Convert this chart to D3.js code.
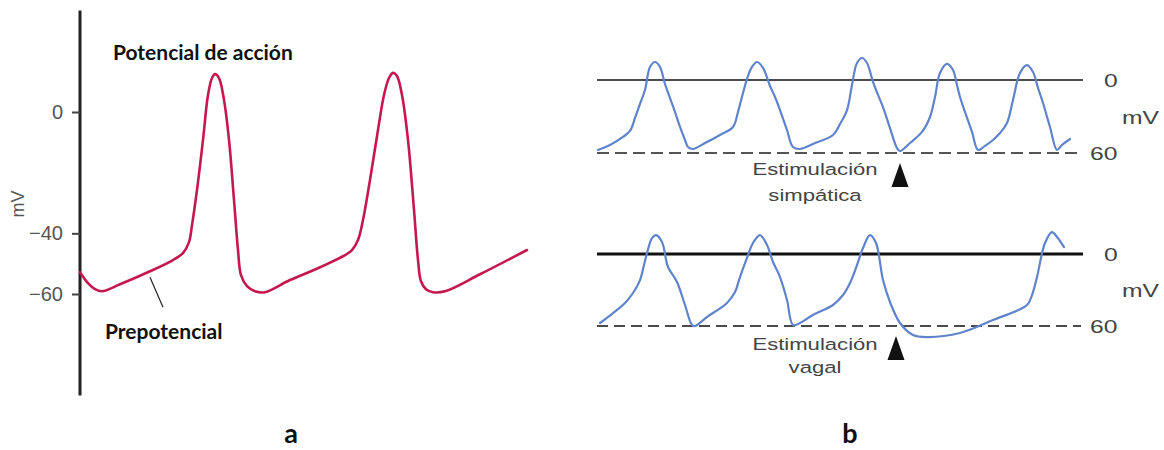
<!DOCTYPE html>
<html>
<head>
<meta charset="utf-8">
<script src="https://cdn.jsdelivr.net/npm/d3@7"></script>
<style>
  html, body { margin: 0; padding: 0; background: #fff; }
  svg { display: block; }
</style>
</head>
<body>
<svg id="chart" width="1164" height="450"></svg>
<script>
// ---------- Panel a: pacemaker action potential ----------
const aTime = [0, 8, 15, 22, 40, 70, 93, 103, 109, 112, 117, 123, 128, 132, 135, 139, 144, 149, 154, 158, 161, 167, 175, 185, 210, 240, 265, 272, 278, 283, 290, 298, 304, 309, 313, 317, 322, 328, 334, 338, 341, 346, 353, 365, 400, 447];
const aVoltage = [-52.8, -56.4, -58.4, -59.1, -56.8, -52.5, -48.8, -46.5, -42.9, -37.3, -25.7, -9.2, 5.6, 11.2, 12.5, 11.2, 4.0, -9.2, -29.0, -45.5, -53.8, -57.4, -59.1, -59.4, -55.4, -51.2, -47.2, -45.5, -42.2, -35.6, -22.4, -5.9, 5.6, 11.2, 12.9, 11.9, 5.6, -9.2, -32.3, -48.8, -55.8, -58.4, -59.4, -59.1, -53.5, -45.5];
const aTicks = [0, -40, -60];

// ---------- Panel b: sympathetic stimulation ----------
const sympTime = [1, 13, 26, 33, 38, 43, 48, 53, 58, 63, 68, 73, 78, 83, 88, 91, 96, 108, 123, 136, 141, 146, 151, 155, 160, 166, 173, 178, 183, 190, 196, 203, 218, 236, 243, 250, 255, 260, 265, 270, 276, 281, 286, 293, 300, 303, 313, 325, 333, 338, 343, 350, 356, 360, 363, 368, 375, 381, 388, 396, 403, 410, 416, 423, 430, 436, 441, 446, 453, 460, 465, 473];
const sympVoltage = [-57.5, -53.4, -46.8, -41.9, -31.2, -19.7, -8.2, 10.7, 14.8, 10.7, -3.3, -14.8, -26.3, -38.6, -49.3, -55.1, -56.7, -51.8, -45.2, -38.6, -26.3, -10.7, 3.3, 10.7, 14.8, 9.9, -4.9, -14.0, -24.7, -41.1, -55.1, -56.7, -51.8, -45.2, -36.2, -24.7, -4.1, 14.0, 18.1, 14.0, -1.6, -12.3, -22.2, -39.5, -55.9, -58.4, -51.8, -42.7, -30.4, -14.0, 5.8, 13.2, 8.2, -4.1, -14.0, -26.3, -42.7, -57.5, -54.2, -49.3, -43.6, -35.3, -16.4, 5.8, 12.3, 6.6, -6.6, -18.9, -38.6, -57.5, -53.4, -48.5];
const sympStimulus = 303;

// ---------- Panel b: vagal stimulation ----------
const vagalTime = [3, 16, 28, 36, 43, 47, 50, 55, 59, 65, 71, 80, 88, 95, 98, 110, 130, 138, 143, 150, 156, 163, 170, 176, 183, 190, 196, 203, 216, 236, 246, 253, 260, 266, 273, 279, 286, 293, 303, 316, 330, 363, 396, 430, 435, 440, 448, 455, 460, 467];
const vagalVoltage = [-57.5, -49.2, -40.8, -32.5, -21.7, -9.2, 0.8, 13.3, 15.8, 10.0, -10.8, -23.3, -42.5, -59.2, -60.0, -52.5, -40.8, -31.7, -19.2, -3.3, 9.2, 15.8, 7.5, -6.7, -19.2, -38.3, -59.2, -57.5, -50.8, -42.5, -34.2, -24.2, -9.2, 5.0, 15.8, 9.2, -21.7, -40.0, -57.5, -67.5, -69.2, -65.8, -55.0, -42.5, -34.2, -19.2, 9.2, 18.3, 14.2, 5.8];
const vagalStimulus = 299;

const bTicks = [0, -60];
const bTickLabels = ["0", "60"];
const panelLabels = ["a", "b"];

const svg = d3.select("#chart");
const sans = "'Liberation Sans', Arial, sans-serif";
const bold = "Lato, 'Open Sans', sans-serif";

// ===== Panel a =====
const ax = d3.scaleLinear().domain([0, 447]).range([80, 527]);
const ay = d3.scaleLinear().domain([0, -60]).range([112, 294]);

const gA = svg.append("g");
// vertical axis line
gA.append("line")
  .attr("x1", 80).attr("x2", 80)
  .attr("y1", ay(33.5)).attr("y2", ay(-93.5))
  .attr("stroke", "#222").attr("stroke-width", 3);

const yAxisA = d3.axisLeft(ay).tickValues(aTicks).tickSize(8).tickPadding(9)
  .tickFormat(d => d === 0 ? "0" : "\u2212" + Math.abs(d));
const gAxA = gA.append("g").attr("transform", "translate(80,0)").call(yAxisA);
gAxA.select(".domain").remove();
gAxA.selectAll(".tick line").attr("stroke", "#444").attr("stroke-width", 2);
gAxA.selectAll(".tick text")
  .attr("fill", "#555").style("font-family", sans).style("font-size", "20px");

gA.append("text")
  .attr("transform", "translate(24,204) rotate(-90)")
  .attr("text-anchor", "middle")
  .attr("fill", "#555").style("font-family", sans).style("font-size", "18px")
  .text("mV");

const lineA = d3.line()
  .x((d, i) => ax(aTime[i])).y((d, i) => ay(aVoltage[i]))
  .curve(d3.curveCatmullRom.alpha(0.5));
gA.append("path")
  .attr("d", lineA(aTime))
  .attr("fill", "none").attr("stroke", "#c4184f").attr("stroke-width", 2.6)
  .attr("stroke-linejoin", "round").attr("stroke-linecap", "round");

gA.append("text")
  .attr("x", 113).attr("y", 60)
  .attr("fill", "#111").style("font-family", bold).style("font-weight", "700").style("font-size", "21px")
  .text("Potencial de acción");

// pointer to the slow diastolic depolarization
gA.append("line")
  .attr("x1", ax(70)).attr("y1", ay(-54.5))
  .attr("x2", ax(83)).attr("y2", ay(-64.4))
  .attr("stroke", "#222").attr("stroke-width", 1.2);

gA.append("text")
  .attr("x", 105).attr("y", 339)
  .attr("fill", "#111").style("font-family", bold).style("font-weight", "700").style("font-size", "21px")
  .text("Prepotencial");

// ===== Panel b =====
const bx = d3.scaleLinear().domain([0, 486]).range([597, 1083]);
const byTop = d3.scaleLinear().domain([-60, 0]).range([153, 80]);
const byBot = d3.scaleLinear().domain([-60, 0]).range([326, 254]);
const stretch = 1.3;

function stretchedText(g, x, y, txt, size, anchor) {
  g.append("text")
    .attr("transform", `translate(${x},${y}) scale(${stretch},1)`)
    .attr("text-anchor", anchor || "start")
    .attr("fill", "#444").style("font-family", sans).style("font-size", size + "px")
    .text(txt);
}

function trace(g, times, volts, yScale, zeroWidth, dashStyle, stim, words) {
  // zero reference
  g.append("line")
    .attr("x1", bx(0)).attr("x2", bx(486))
    .attr("y1", yScale(0)).attr("y2", yScale(0))
    .attr("stroke", "#111").attr("stroke-width", zeroWidth);
  // -60 reference (dashed)
  g.append("line")
    .attr("x1", bx(0)).attr("x2", bx(484))
    .attr("y1", yScale(-60)).attr("y2", yScale(-60))
    .attr("stroke", dashStyle.color).attr("stroke-width", dashStyle.width)
    .attr("stroke-dasharray", dashStyle.dash);

  const ln = d3.line()
    .x((d, i) => bx(times[i])).y((d, i) => yScale(volts[i]))
    .curve(d3.curveCatmullRom.alpha(0.5));
  g.append("path")
    .attr("d", ln(times))
    .attr("fill", "none").attr("stroke", "#5f84cc").attr("stroke-width", 2.2)
    .attr("stroke-linejoin", "round").attr("stroke-linecap", "round");

  // tick labels on the right
  bTicks.forEach((t, i) => {
    const x = t === 0 ? 1104 : 1090;
    stretchedText(g, x, yScale(t) + 7, bTickLabels[i], 19, "start");
  });
  stretchedText(g, 1122, yScale(-30) + 7, "mV", 19, "start");

  // stimulus arrowhead
  const sx = bx(stim), sy = yScale(-60) + 10;
  g.append("path")
    .attr("d", `M${sx},${sy} L${sx + 8.5},${sy + 24} L${sx - 8.5},${sy + 24} Z`)
    .attr("fill", "#111");

  stretchedText(g, 815, words.y1, words.t1, 17, "middle");
  stretchedText(g, 815, words.y2, words.t2, 17, "middle");
}

const gB = svg.append("g");
trace(gB, sympTime, sympVoltage, byTop, 1.3,
  { color: "#555", width: 2, dash: "12,6" }, sympStimulus,
  { t1: "Estimulación", y1: 175, t2: "simpática", y2: 201 });
trace(gB, vagalTime, vagalVoltage, byBot, 3,
  { color: "#111", width: 1.3, dash: "11,6" }, vagalStimulus,
  { t1: "Estimulación", y1: 350, t2: "vagal", y2: 373 });

// panel letters
svg.append("text").attr("x", 291).attr("y", 443).attr("text-anchor", "middle")
  .attr("fill", "#111").style("font-family", bold).style("font-weight", "700").style("font-size", "27px")
  .text(panelLabels[0]);
svg.append("text").attr("x", 850).attr("y", 443).attr("text-anchor", "middle")
  .attr("fill", "#111").style("font-family", bold).style("font-weight", "700").style("font-size", "27px")
  .text(panelLabels[1]);
</script>
</body>
</html>
